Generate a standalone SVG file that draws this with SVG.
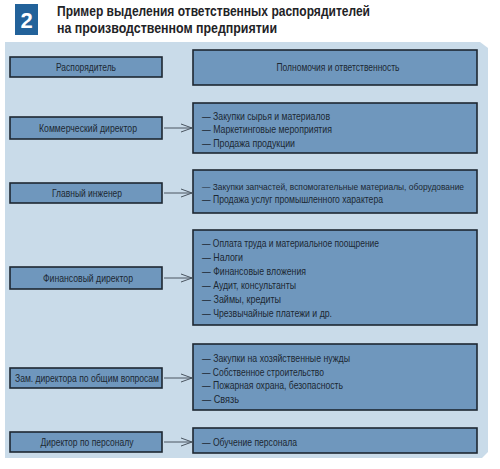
<svg xmlns="http://www.w3.org/2000/svg" width="500" height="469" viewBox="0 0 500 469">
<defs>
<style>
.bx{fill:#6f97bd;stroke:#1d2731;stroke-width:1.6}
.lt{font-family:"Liberation Sans",Arial,sans-serif;font-size:10.5px;fill:#1c2833;text-anchor:middle}
.it{font-family:"Liberation Sans",Arial,sans-serif;font-size:10.5px;fill:#1c2833}
.tt{font-family:"Liberation Sans",Arial,sans-serif;font-size:15px;font-weight:bold;fill:#1f2326}
.cn{stroke:#4a5560;stroke-width:1;fill:none}
</style>
<marker id="ah" viewBox="0 0 12 10" refX="11" refY="5" markerWidth="12" markerHeight="10" markerUnits="userSpaceOnUse" orient="auto">
<path d="M0,1 L11,5 L0,9" fill="none" stroke="#4a5560" stroke-width="1"/>
</marker>
</defs>
<rect width="500" height="469" fill="#ffffff"/>
<g id="title">
<rect x="15" y="4" width="23" height="31" fill="#22629a"/>
<text x="26.5" y="28" font-family="Liberation Sans,Arial,sans-serif" font-size="22" font-weight="bold" fill="#ffffff" text-anchor="middle">2</text>
<text class="tt" x="57" y="16" textLength="313" lengthAdjust="spacingAndGlyphs">Пример выделения ответственных распорядителей</text>
<text class="tt" x="57" y="33" textLength="220" lengthAdjust="spacingAndGlyphs">на производственном предприятии</text>
</g>
<path id="panel" d="M5,42 L480,42 L488,48 L488,452 L482,458 L5,458 Z" fill="#c9dbe9"/>
<g id="connectors">
<line class="cn" x1="164" y1="128" x2="192" y2="128" marker-end="url(#ah)"/>
<line class="cn" x1="164" y1="193" x2="192" y2="193" marker-end="url(#ah)"/>
<line class="cn" x1="164" y1="278" x2="192" y2="278" marker-end="url(#ah)"/>
<line class="cn" x1="164" y1="378" x2="192" y2="378" marker-end="url(#ah)"/>
<line class="cn" x1="164" y1="442" x2="192" y2="442" marker-end="url(#ah)"/>
</g>
<g id="n-head-left"><rect class="bx" x="10" y="57" width="152" height="20"/><text class="lt" x="86" y="70.5" textLength="60" lengthAdjust="spacingAndGlyphs">Распорядитель</text></g>
<g id="n-head-right"><rect class="bx" x="193" y="50" width="284" height="35"/><text class="lt" x="338" y="71" textLength="123" lengthAdjust="spacingAndGlyphs">Полномочия и ответственность</text></g>
<g id="n-comm-left"><rect class="bx" x="10" y="117" width="152" height="22"/><text class="lt" x="88" y="131.5" textLength="98" lengthAdjust="spacingAndGlyphs">Коммерческий директор</text></g>
<g id="n-comm-right"><rect class="bx" x="193" y="103" width="284" height="50"/>
<text class="it" x="202" y="119.5" textLength="128" lengthAdjust="spacingAndGlyphs">— Закупки сырья и материалов</text>
<text class="it" x="202" y="133" textLength="130" lengthAdjust="spacingAndGlyphs">— Маркетинговые мероприятия</text>
<text class="it" x="202" y="146.5" textLength="93" lengthAdjust="spacingAndGlyphs">— Продажа продукции</text></g>
<g id="n-eng-left"><rect class="bx" x="10" y="183" width="152" height="20"/><text class="lt" x="87" y="196.5" textLength="70" lengthAdjust="spacingAndGlyphs">Главный инженер</text></g>
<g id="n-eng-right"><rect class="bx" x="193" y="170" width="284" height="43"/>
<text class="it" x="202" y="189.5" style="font-size:8.6px" textLength="262" lengthAdjust="spacingAndGlyphs">— Закупки запчастей, вспомогательные материалы, оборудование</text>
<text class="it" x="202" y="202.5" textLength="181" lengthAdjust="spacingAndGlyphs">— Продажа услуг промышленного характера</text></g>
<g id="n-fin-left"><rect class="bx" x="10" y="267" width="152" height="22"/><text class="lt" x="88" y="281.5" textLength="90" lengthAdjust="spacingAndGlyphs">Финансовый директор</text></g>
<g id="n-fin-right"><rect class="bx" x="193" y="230" width="284" height="95"/>
<text class="it" x="202" y="246.5" textLength="177" lengthAdjust="spacingAndGlyphs">— Оплата труда и материальное поощрение</text>
<text class="it" x="202" y="261" textLength="41" lengthAdjust="spacingAndGlyphs">— Налоги</text>
<text class="it" x="202" y="275" textLength="104" lengthAdjust="spacingAndGlyphs">— Финансовые вложения</text>
<text class="it" x="202" y="288.5" textLength="94" lengthAdjust="spacingAndGlyphs">— Аудит, консультанты</text>
<text class="it" x="202" y="302.5" textLength="79" lengthAdjust="spacingAndGlyphs">— Займы, кредиты</text>
<text class="it" x="202" y="316.5" textLength="130" lengthAdjust="spacingAndGlyphs">— Чрезвычайные платежи и др.</text></g>
<g id="n-zam-left"><rect class="bx" x="10" y="368" width="152" height="20"/><text class="lt" x="87" y="381.5" textLength="144" lengthAdjust="spacingAndGlyphs">Зам. директора по общим вопросам</text></g>
<g id="n-zam-right"><rect class="bx" x="193" y="344" width="284" height="66"/>
<text class="it" x="202" y="361.5" textLength="148" lengthAdjust="spacingAndGlyphs">— Закупки на хозяйственные нужды</text>
<text class="it" x="202" y="375.5" textLength="122" lengthAdjust="spacingAndGlyphs">— Собственное строительство</text>
<text class="it" x="202" y="388.5" textLength="141" lengthAdjust="spacingAndGlyphs">— Пожарная охрана, безопасность</text>
<text class="it" x="202" y="402.5" textLength="37" lengthAdjust="spacingAndGlyphs">— Связь</text></g>
<g id="n-pers-left"><rect class="bx" x="10" y="432" width="152" height="20"/><text class="lt" x="87" y="445.5" textLength="93" lengthAdjust="spacingAndGlyphs">Директор по персоналу</text></g>
<g id="n-pers-right"><rect class="bx" x="193" y="428" width="284" height="25"/>
<text class="it" x="202" y="445.5" textLength="95" lengthAdjust="spacingAndGlyphs">— Обучение персонала</text></g>
</svg>
